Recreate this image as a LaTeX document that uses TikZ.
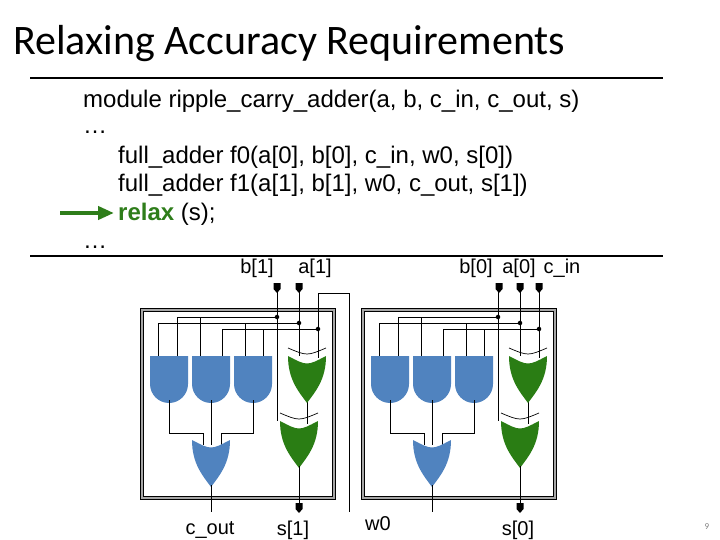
\documentclass[tikz,border=0pt]{standalone}
\usepackage{fontspec}
\usetikzlibrary{arrows.meta}
\setmainfont{Liberation Sans}
\newfontfamily\calib{Carlito}
\definecolor{gblue}{HTML}{5083BF}
\definecolor{ggreen}{HTML}{2A7D14}
\definecolor{rgreen}{HTML}{2E7D1A}
\newcommand\andg[2]{\fill[gblue] (#1,#2) -- (#1+38,#2) -- (#1+38,#2+28) arc[start angle=0,end angle=180,radius=19] -- cycle;}
\newcommand\org[3]{\fill[#3] (#1,#2) .. controls (#1+19,#2+10) .. (#1+38,#2) .. controls (#1+38,#2+24) and (#1+27,#2+36) .. (#1+19,#2+47) .. controls (#1+11,#2+36) and (#1,#2+24) .. (#1,#2) -- cycle;}
\newcommand\xarc[2]{\draw[wire] (#1,#2-8) .. controls (#1+19,#2) .. (#1+38,#2-8);}
\newcommand\term[2]{\fill (#1-3.5,#2) rectangle (#1+3.5,#2+6) (#1-3.5,#2+6) -- (#1,#2+10) -- (#1+3.5,#2+6) -- cycle;}
\begin{document}
\begin{tikzpicture}[x=1pt,y=-1pt,wire/.style={line width=0.7pt},dot/.style={circle,fill,inner sep=1.6pt}]
\useasboundingbox (0,0) rectangle (720,540);
\node[anchor=west,font=\calib\fontsize{42}{48}\selectfont,inner sep=0pt] (title) at (13,44) {Relaxing Accuracy Requirements};
\draw[line width=2.5pt] (30,78) -- (663,78);
\draw[line width=2.5pt] (30,256) -- (663,256);
\begin{scope}[every node/.style={anchor=base west,font=\fontsize{24}{28}\selectfont,inner sep=0pt,text height=16pt,text depth=4pt}]
\node (c1) at (83,108) {module ripple\_carry\_adder(a, b, c\_in, c\_out, s)};
\node (c2) at (83,134) {\dots};
\node (c3) at (118,164) {full\_adder f0(a[0], b[0], c\_in, w0, s[0])};
\node (c4) at (118,192) {full\_adder f1(a[1], b[1], w0, c\_out, s[1])};
\node (c5) at (118,221) {\textcolor{rgreen}{\bfseries relax} (s);};
\node (c6) at (83,248) {\dots};
\end{scope}
\draw[rgreen,line width=4pt,-{Triangle[length=16pt,width=13pt]}] (60,213) -- (114,213);
% blocks
\foreach \dx in {0,221}{
\begin{scope}[xshift=\dx]
\draw[line width=2.6pt,gray!70] (142,310) rectangle (334,498);
\draw[line width=0.5pt] (140.5,308.5) rectangle (335.5,499.5);
\draw[line width=0.5pt] (143.5,311.5) rectangle (332.5,496.5);
% input wires
\draw[wire] (277,292) -- (277,421);
\draw[wire] (299,292) -- (299,356);
\draw[wire] (177,317) -- (277,317);
\draw[wire] (158,323) -- (299,323);
\draw[wire] (222,329) -- (318,329);
\foreach \x in {177,200}{\draw[wire] (\x,317) -- (\x,358);}
\foreach \x in {158,245}{\draw[wire] (\x,323) -- (\x,358);}
\foreach \x in {222,263}{\draw[wire] (\x,329) -- (\x,358);}
\draw[wire] (318,329) -- (318,358);
\node[dot] at (277,317) {};
\node[dot] at (299,323) {};
\node[dot] at (318,329) {};
% gates
\andg{150}{356}\andg{192}{356}\andg{234}{356}
\draw[wire] (307,400) -- (307,424);
\org{288}{356}{ggreen}\xarc{288}{356}
\org{280}{421}{ggreen}\xarc{280}{421}
\draw[wire] (169,400) -- (169,433) -- (203,433) -- (203,445);
\draw[wire] (211,400) -- (211,445);
\draw[wire] (253,400) -- (253,433) -- (221,433) -- (221,445);
\org{192}{440}{gblue}
\draw[wire] (211,485) -- (211,512);
\draw[wire] (299,466) -- (299,503);
\term{299}{503}
\end{scope}}
% top terminals
\foreach \x in {277,299,499,520,539}{\term{\x}{283}}
\draw[wire] (539,292) -- (539,329);
\draw[wire] (318,329) -- (318,293) -- (349,293) -- (349,512);
% labels
\begin{scope}[every node/.style={font=\fontsize{20}{22}\selectfont,inner sep=0pt}]
\node (lb1) at (257,268) {b[1]};
\node (la1) at (315,268) {a[1]};
\node (lb0) at (476,268) {b[0]};
\node (la0) at (519,268) {a[0]};
\node (lci) at (562,268) {c\_in};
\node (lco) at (210,530) {c\_out};
\node (ls1) at (293,530) {s[1]};
\node (lw0) at (378,524) {w0};
\node (ls0) at (518,530) {s[0]};
\end{scope}
\node[font=\calib\fontsize{9}{10}\selectfont,text=gray] (pg) at (707,527) {9};
\end{tikzpicture}
\end{document}
